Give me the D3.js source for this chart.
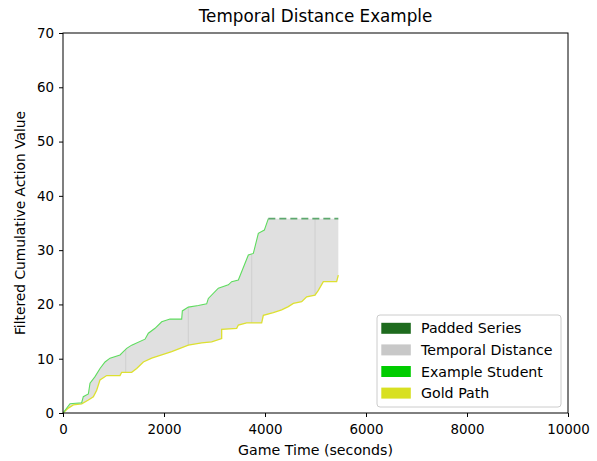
<!DOCTYPE html>
<html><head><meta charset="utf-8">
<script src="https://cdn.jsdelivr.net/npm/d3@7"></script>
<style>body{margin:0;background:#fff}svg{font-family:"DejaVu Sans",sans-serif}</style>
</head><body><svg id="c" width="597" height="461"></svg>
<script>
const title = "Temporal Distance Example";
const xLabel = "Game Time (seconds)";
const yLabel = "Filtered Cumulative Action Value";
const xTicks = [0, 2000, 4000, 6000, 8000, 10000];
const yTicks = [0, 10, 20, 30, 40, 50, 60, 70];
const studentX = [0,139,370,402,502,535,634,733,832,931,1129,1195,1261,1360,1624,1690,1822,1954,2119,2350,2363,2482,2680,2845,2878,3076,3274,3340,3472,3670,3769,3868,3987,4066];
const studentY = [0,1.7,1.9,3.0,3.5,5.5,6.7,8.2,9.4,10.1,10.7,11.3,11.9,12.5,13.6,14.7,15.6,16.8,17.3,17.3,18.8,19.5,19.8,20.1,21.1,23.0,23.6,24.2,24.5,29.1,29.4,33.1,33.7,35.8];
const goldX = [0,106,205,370,502,601,667,733,865,1129,1162,1360,1459,1591,1756,1954,2152,2317,2482,2746,2944,3142,3142,3439,3472,3637,3934,3967,4165,4330,4462,4561,4726,4825,4990,5056,5155,5419,5452];
const goldY = [0,0.9,1.5,1.7,2.4,3.0,4.2,6.1,6.9,6.9,7.5,7.5,8.2,9.4,10.1,10.7,11.3,11.9,12.5,12.9,13.1,13.7,15.4,15.6,16.2,16.6,16.6,18.0,18.5,19.0,19.6,20.2,20.5,21.4,21.7,22.6,24.2,24.2,25.4];
const paddedX = [4066, 5452];
const paddedY = [35.8, 35.8];
const dividerX = [1241, 2482, 3736, 4990];
const legendLabels = ["Padded Series","Temporal Distance","Example Student","Gold Path"];
const legendColors = ["#1e6b1e","#c8c8c8","#00cc00","#d8e022"];

const svg = d3.select("#c");
const m = {l:63, r:29, t:33, b:48};
const W = 597, H = 461;
const x = d3.scaleLinear().domain([0,10000]).range([m.l, W-m.r]);
const y = d3.scaleLinear().domain([0,70]).range([H-m.b, m.t]);

const student = studentX.map((v,i)=>[v,studentY[i]]);
const padded = paddedX.map((v,i)=>[v,paddedY[i]]);
const upper = student.concat(padded.slice(1));
const gold = goldX.map((v,i)=>[v,goldY[i]]);

const poly = upper.map(d=>[x(d[0]),y(d[1])]).concat(gold.slice().reverse().map(d=>[x(d[0]),y(d[1])]));
svg.append("path").attr("d", "M"+poly.map(p=>p.join(",")).join("L")+"Z").attr("fill","#e0e0e0");

function interp(arr, xv){
  for(let i=1;i<arr.length;i++){ if(arr[i][0]>=xv){ const a=arr[i-1], b=arr[i]; const t=(b[0]-a[0])?(xv-a[0])/(b[0]-a[0]):1; return a[1]+t*(b[1]-a[1]); } }
  return arr[arr.length-1][1];
}
dividerX.forEach(dx=>{
  svg.append("line").attr("x1",x(dx)).attr("x2",x(dx))
    .attr("y1",y(interp(upper,dx))).attr("y2",y(interp(gold,dx)))
    .attr("stroke","#d2d2d2").attr("stroke-width",1.2);
});

const line = d3.line().x(d=>x(d[0])).y(d=>y(d[1]));
svg.append("path").datum(gold).attr("d",line).attr("fill","none").attr("stroke","#dde030").attr("stroke-width",1.3);
svg.append("path").datum(student).attr("d",line).attr("fill","none").attr("stroke","#5fdc5f").attr("stroke-width",1.1);
svg.append("path").datum(padded).attr("d",line).attr("fill","none").attr("stroke","#5ea86e").attr("stroke-width",1.6).attr("stroke-dasharray","7,4");

const gx = svg.append("g").attr("transform",`translate(0,${H-m.b})`).call(d3.axisBottom(x).tickValues(xTicks).tickFormat(d3.format("d")).tickSizeOuter(0).tickSize(4));
const gy = svg.append("g").attr("transform",`translate(${m.l},0)`).call(d3.axisLeft(y).tickValues(yTicks).tickFormat(d3.format("d")).tickSizeOuter(0).tickSize(4));
[gx,gy].forEach(g=>{g.select(".domain").remove(); g.selectAll("text").attr("font-size",13.4).attr("fill","#000").attr("font-family","DejaVu Sans"); g.selectAll("line").attr("stroke","#000");});
gy.selectAll("text").attr("dx",-2);
gx.selectAll("text").attr("dy","1.05em");
svg.append("rect").attr("x",m.l).attr("y",m.t).attr("width",W-m.l-m.r).attr("height",H-m.t-m.b).attr("fill","none").attr("stroke","#000").attr("stroke-width",1);

svg.append("text").attr("x",(m.l+W-m.r)/2).attr("y",22).attr("text-anchor","middle").attr("font-size",16.8).text(title);
svg.append("text").attr("x",(m.l+W-m.r)/2).attr("y",455).attr("text-anchor","middle").attr("font-size",14.2).text(xLabel);
svg.append("text").attr("transform",`translate(25,${(m.t+H-m.b)/2}) rotate(-90)`).attr("text-anchor","middle").attr("font-size",13.8).text(yLabel);

const lg = svg.append("g").attr("transform","translate(377,315)");
lg.append("rect").attr("width",184).attr("height",92).attr("rx",3).attr("fill","#fff").attr("fill-opacity",0.8).attr("stroke","#ccc");
legendLabels.forEach((t,i)=>{
  const yy = 13.3 + i*21.6;
  lg.append("rect").attr("x",4.3).attr("y",yy-5.5).attr("width",29.5).attr("height",11).attr("fill",legendColors[i]);
  lg.append("text").attr("x",44).attr("y",yy+5).attr("font-size",14.2).text(t);
});
</script></body></html>
